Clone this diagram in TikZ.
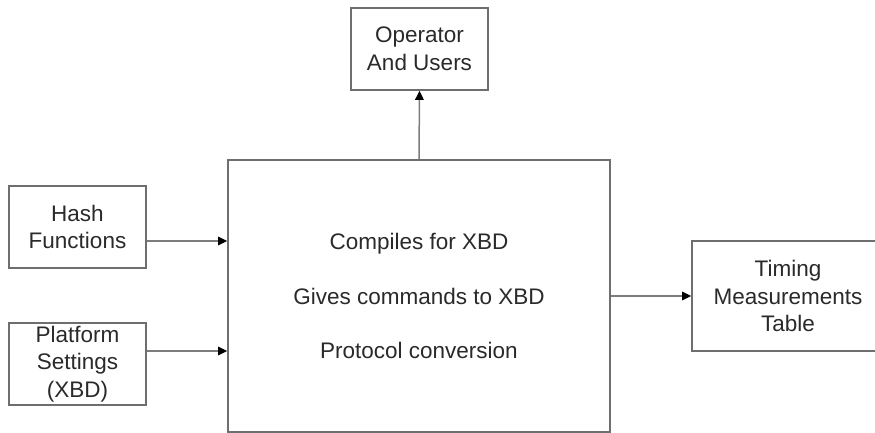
\documentclass[tikz,border=0pt]{standalone}
\usepackage{fontspec}
\setmainfont{Liberation Sans}
\usetikzlibrary{arrows.meta}
\definecolor{boxgray}{HTML}{6E6E6E}
\definecolor{linegray}{HTML}{7C7C7C}
\definecolor{textgray}{HTML}{2A2A2A}
\begin{document}
\begin{tikzpicture}[x=1pt,y=-1pt,
  box/.style={draw=boxgray, line width=1.6pt, fill=white, inner sep=0pt,
    align=center, text=textgray, font=\fontsize{22.5}{27.5}\selectfont},
  link/.style={draw=linegray, line width=1.5pt,
    -{Triangle[length=9pt,width=8.5pt,color=black]}}]
\useasboundingbox (0,0) rectangle (875,433);
\clip (0,0) rectangle (875,433);

% blocks
\node[box, minimum width=137pt, minimum height=82pt] (op) at (419.5,49) {Operator\\And Users};
\node[box, minimum width=382pt, minimum height=272pt] (main) at (419,296)
  {Compiles for XBD\\[27pt]Gives commands to XBD\\[27pt]Protocol conversion};
\node[box, minimum width=137pt, minimum height=82pt] (hash) at (77.5,227) {Hash\\Functions};
\node[box, minimum width=137pt, minimum height=82pt] (plat) at (77.5,364) {Platform\\Settings\\(XBD)};
\node[box, minimum width=192pt, minimum height=110pt] (timing) at (788,296) {Timing\\Measurements\\Table};

% connectors
\draw[link] ([yshift=-14pt]hash.east) -- ([yshift=-14pt]hash.east -| main.west);
\draw[link] ([yshift=13pt]plat.east) -- ([yshift=13pt]plat.east -| main.west);
\draw[link] (main.east |- timing.west) -- (timing.west);
\draw[link] (main.north) -- (op.south);
\end{tikzpicture}
\end{document}
